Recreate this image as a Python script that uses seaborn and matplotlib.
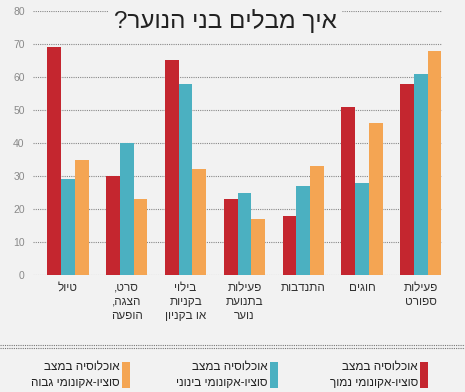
import matplotlib
matplotlib.use('Agg')
import matplotlib.pyplot as plt
from matplotlib.patches import Rectangle
from matplotlib.lines import Line2D
import pandas as pd
import seaborn as sns

# data (hebrew strings, drawn reversed since matplotlib has no bidi)
categories = ['טיול', 'סרט,\nהצגה,\nהופעה', 'בילוי\nבקניות\nאו בקניון',
              'פעילות\nבתנועת\nנוער', 'התנדבות', 'חוגים', 'פעילות\nספורט']
low = [69, 30, 65, 23, 18, 51, 58]
mid = [29, 40, 58, 25, 27, 28, 61]
high = [35, 23, 32, 17, 33, 46, 68]
series = ['אוכלוסיה במצב\nסוציו-אקונומי נמוך',
          'אוכלוסיה במצב\nסוציו-אקונומי בינוני',
          'אוכלוסיה במצב\nסוציו-אקונומי גבוה']
colors = ['#c4262f', '#4bb0c1', '#f4a553']
title = 'איך מבלים בני הנוער?'


def rtl(s):
    return '\n'.join(line[::-1] for line in s.split('\n'))


bg = '#f2f2f2'
rows = []
for i, c in enumerate(categories):
    for s, vals in zip(series, [low, mid, high]):
        rows.append({'cat': rtl(c), 'series': s, 'val': vals[i]})
df = pd.DataFrame(rows)

sns.set_style('white')
plt.rcParams['font.family'] = ['Liberation Sans', 'DejaVu Sans']

fig = plt.figure(figsize=(4.65, 3.92), dpi=100, facecolor=bg)
ax = fig.add_axes([33 / 465, 1 - 275 / 392, (442 - 33) / 465, (275 - 11) / 392])
ax.set_facecolor(bg)

sns.barplot(data=df, x='cat', y='val', hue='series', palette=colors,
            width=0.7, saturation=1, linewidth=0, ax=ax, legend=False)

ax.set_ylim(0, 80)
ax.set_xlim(-0.595, 6.36)
ax.set_yticks(range(0, 81, 10))
ax.yaxis.grid(True, linestyle=(0, (1, 1)), color='#888888', linewidth=0.8)
ax.set_axisbelow(True)
for sp in ax.spines.values():
    sp.set_visible(False)
ax.tick_params(axis='y', length=0, labelsize=7.5, labelcolor='#8a8a8a', pad=6)
ax.tick_params(axis='x', length=0, labelsize=8.5, labelcolor='#333333', pad=5)
ax.set_xlabel('')
ax.set_ylabel('')

fig.text(225 / 465, 1 - 21 / 392, rtl(title), ha='center', va='center',
         fontsize=17.5, color='#222222',
         bbox=dict(facecolor=bg, edgecolor='none', pad=4))

# separator
for yy in (345, 348):
    fig.add_artist(Line2D([0, 1], [1 - yy / 392] * 2, transform=fig.transFigure,
                          color='#777777', linestyle=(0, (1, 1)), linewidth=0.8))

# legend (right to left)
xs = [420, 270, 122]
for x, s, col in zip(xs, series, colors):
    fig.add_artist(Rectangle((x / 465, 1 - 388 / 392), 8 / 465, 26 / 392,
                             transform=fig.transFigure, facecolor=col,
                             edgecolor='none'))
    fig.text((x - 2) / 465, 1 - 375 / 392, rtl(s), ha='right', va='center',
             fontsize=8.5, color='#222222', linespacing=1.45,
             multialignment='right')

fig.savefig('out.png', dpi=100, facecolor=bg)
